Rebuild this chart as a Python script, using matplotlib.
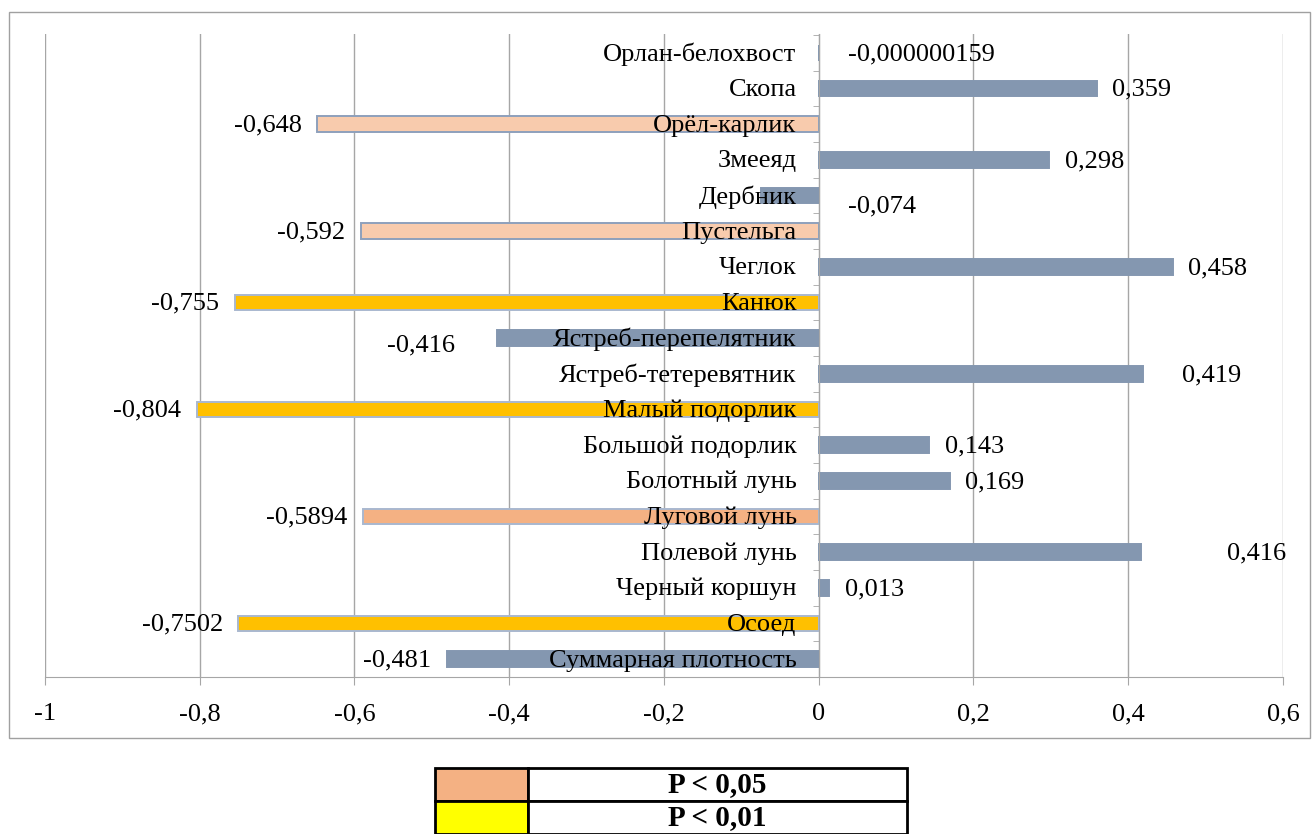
import numpy as np
import matplotlib.pyplot as plt
from matplotlib.patches import Rectangle
from matplotlib.ticker import FuncFormatter

plt.rcParams['font.family'] = ['Liberation Serif', 'DejaVu Serif']

species = ['Орлан-белохвост', 'Скопа', 'Орёл-карлик', 'Змееяд', 'Дербник', 'Пустельга',
           'Чеглок', 'Канюк', 'Ястреб-перепелятник', 'Ястреб-тетеревятник', 'Малый подорлик',
           'Большой подорлик', 'Болотный лунь', 'Луговой лунь', 'Полевой лунь',
           'Черный коршун', 'Осоед', 'Суммарная плотность']
corr = [-0.000000159, 0.359, -0.648, 0.298, -0.074, -0.592, 0.458, -0.755, -0.416, 0.419,
        -0.804, 0.143, 0.169, -0.5894, 0.416, 0.013, -0.7502, -0.481]
# 0 - not significant, 1 - light, 2 - P < 0,05, 3 - P < 0,01
signif = [0, 0, 1, 0, 0, 1, 0, 3, 0, 0, 3, 0, 0, 2, 0, 0, 3, 0]
legend_rows = ['P < 0,05', 'P < 0,01']
legend_colors = ['#F4B183', '#FFFF00']

fill = {0: '#8497B0', 1: '#F8CBAD', 2: '#F4B183', 3: '#FFC000'}
edge = {0: '#8497B0', 1: '#8EA0BC', 2: '#A9B8CF', 3: '#A9B8CF'}

# label offsets in points (dx, dy) relative to bar end; dy positive = down
lab_off = {0: (21, 0), 4: (62, 6.5), 8: (-30, 4), 9: (28, 0), 14: (62, 0), 15: (12, 0)}
fs = 19

fig = plt.figure(figsize=(13.16, 8.34), dpi=100)
ax = fig.add_axes([45 / 1316, 1 - 677 / 834, (1283 - 45) / 1316, (677 - 34) / 834])

y = np.arange(len(species))
ax.barh(y, corr, height=0.44, color=[fill[s] for s in signif],
        edgecolor=[edge[s] for s in signif], linewidth=1.4, zorder=2)

ax.set_xlim(-1, 0.6)
ax.set_ylim(len(species) - 0.5, -0.53)
ax.set_xticks(np.arange(-1, 0.61, 0.2))
ax.xaxis.set_major_formatter(FuncFormatter(
    lambda v, p: '0' if abs(v) < 1e-9 else ('%g' % round(v, 1)).replace('.', ',')))
ax.grid(axis='x', color='#A6A6A6', linewidth=1, zorder=0)
ax.set_axisbelow(True)

for s in ['top', 'right']:
    ax.spines[s].set_visible(False)
ax.spines['bottom'].set_color('#A6A6A6')
ax.spines['left'].set_position(('data', 0))
ax.spines['left'].set_color('#A6A6A6')

ax.set_yticks(y)
ax.set_yticklabels([])
ax.set_yticks(np.arange(-0.5, len(species), 1), minor=True)
ax.tick_params(axis='y', which='major', length=0)
ax.tick_params(axis='y', which='minor', length=4, color='#A6A6A6', direction='out')
ax.tick_params(axis='x', length=6, color='#A6A6A6', pad=13, labelsize=fs)

# category names sit just left of the zero line, over the bars
for i, name in enumerate(species):
    ax.annotate(name, (0, i), xytext=(-16, -1), textcoords='offset points',
                ha='right', va='center', fontsize=fs, zorder=5)

for i, v in enumerate(corr):
    txt = np.format_float_positional(v, trim='-').replace('.', ',')
    if i in lab_off:
        dx, dy = lab_off[i]
    else:
        dx, dy = (11, 0) if v >= 0 else (-11, 0)
    ha = 'left' if dx > 0 else 'right'
    ax.annotate(txt, (v, i), xytext=(dx, -dy - 1), textcoords='offset points',
                ha=ha, va='center', fontsize=fs, zorder=5)

# outer frame of the chart area
fig.patches.append(Rectangle((9 / 1316, 1 - 738 / 834), 1301 / 1316, 726 / 834,
                             transform=fig.transFigure, fill=False,
                             edgecolor='#A0A0A0', linewidth=1))

# significance key below the chart
x0, x1, x2 = 435 / 1316, 528 / 1316, 907 / 1316
rh = 33 / 834
top = 1 - 768 / 834
for k, (lab, col) in enumerate(zip(legend_rows, legend_colors)):
    yb = top - (k + 1) * rh
    fig.patches.append(Rectangle((x0, yb), x1 - x0, rh, transform=fig.transFigure,
                                 facecolor=col, edgecolor='black', linewidth=2))
    fig.patches.append(Rectangle((x1, yb), x2 - x1, rh, transform=fig.transFigure,
                                 facecolor='white', edgecolor='black', linewidth=2))
    fig.text((x1 + x2) / 2, yb + rh / 2, lab, ha='center', va='center',
             fontsize=21, fontweight='bold')

fig.savefig('out.png', dpi=100)
